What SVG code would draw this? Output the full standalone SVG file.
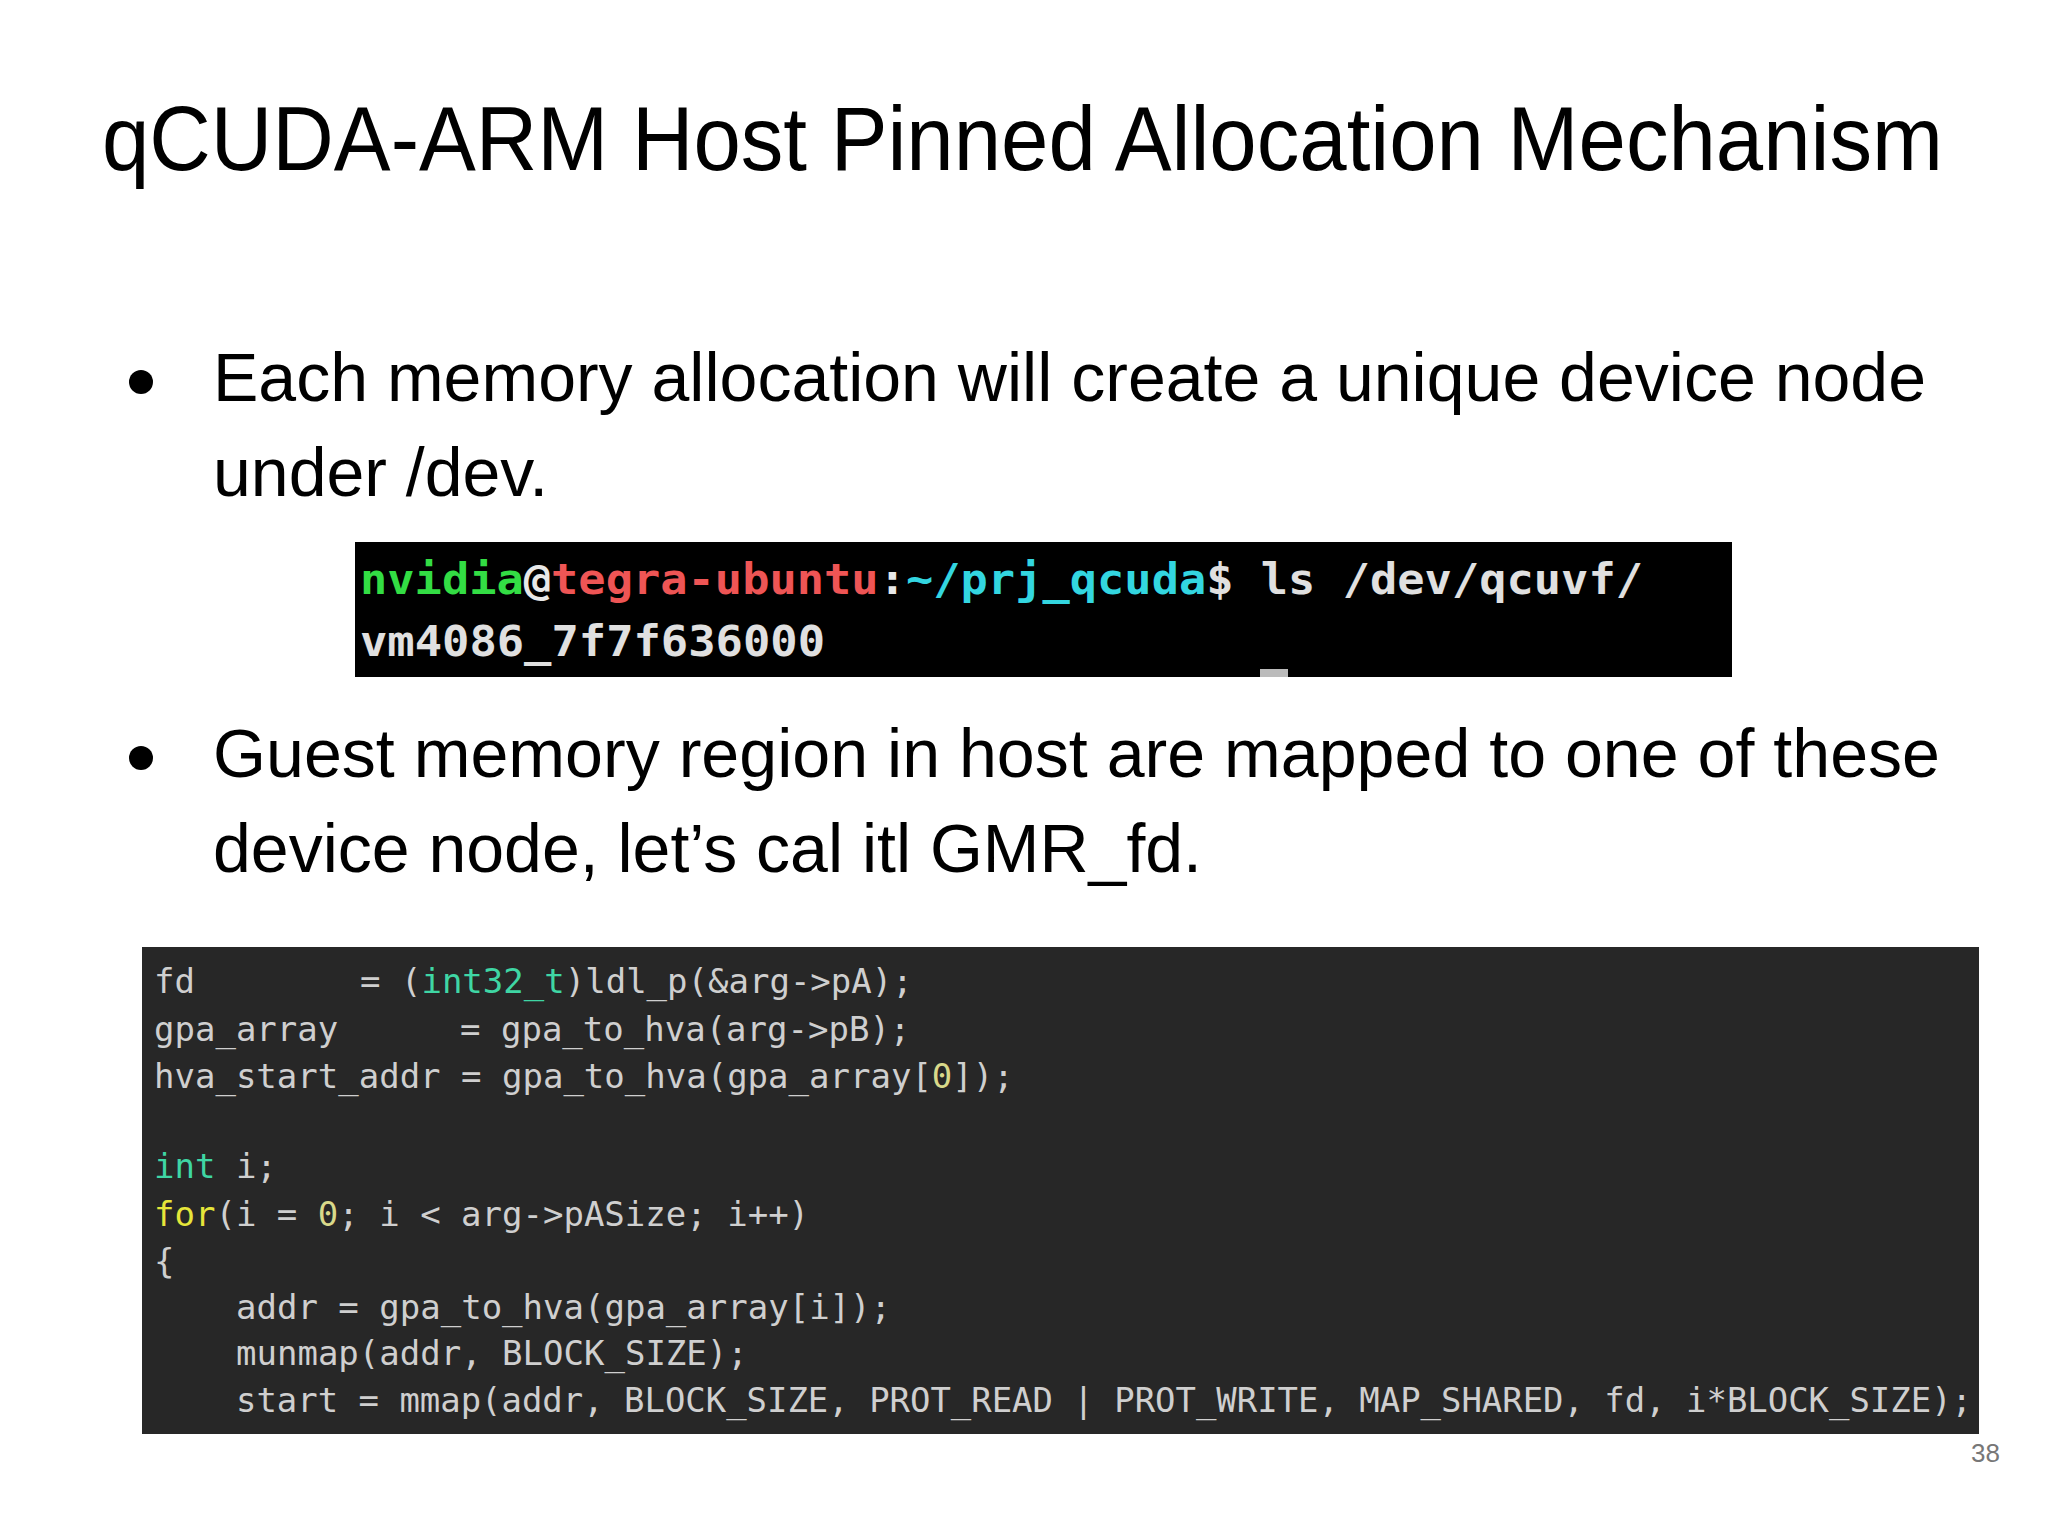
<svg xmlns="http://www.w3.org/2000/svg" width="2048" height="1536" viewBox="0 0 2048 1536">
<style>
.t{font-family:"Liberation Sans",Arial,sans-serif;fill:#000}
.m{font-family:"DejaVu Sans Mono","Liberation Mono",monospace;white-space:pre}
.c{font-size:34px;fill:#cfcfcf}
.term{font-size:42px;font-weight:bold}
</style>
<rect width="2048" height="1536" fill="#fff"/>
<g id="title"><text class="t" x="102" y="170" font-size="90" textLength="1841" lengthAdjust="spacingAndGlyphs">qCUDA-ARM Host Pinned Allocation Mechanism</text></g>
<g id="bullet1">
<circle cx="141" cy="382" r="12" fill="#000"/>
<text class="t" x="213" y="401" font-size="68" textLength="1713" lengthAdjust="spacingAndGlyphs">Each memory allocation will create a unique device node</text>
<text class="t" x="213" y="496" font-size="68">under /dev.</text>
</g>
<g id="terminal">
<rect x="355" y="542" width="1377" height="135" fill="#000"/>
<text class="m term" x="360" y="594" textLength="1283" lengthAdjust="spacingAndGlyphs"><tspan fill="#33dd44">nvidia</tspan><tspan fill="#e8e8e8">@</tspan><tspan fill="#ee5555">tegra-ubuntu</tspan><tspan fill="#e8e8e8">:</tspan><tspan fill="#33d6e0">~/prj_qcuda</tspan><tspan fill="#e0e0e0">$ ls /dev/qcuvf/</tspan></text>
<text class="m term" x="360" y="656" fill="#e0e0e0" textLength="465" lengthAdjust="spacingAndGlyphs">vm4086_7f7f636000</text>
<rect x="1260" y="669" width="28" height="8" fill="#bbb"/>
</g>
<g id="bullet2">
<circle cx="141" cy="758" r="12" fill="#000"/>
<text class="t" x="213" y="777" font-size="68" textLength="1727" lengthAdjust="spacingAndGlyphs">Guest memory region in host are mapped to one of these</text>
<text class="t" x="213" y="872" font-size="68">device node, let’s cal itl GMR_fd.</text>
</g>
<g id="code">
<rect x="142" y="947" width="1837" height="487" fill="#272727"/>
<text class="m c" x="154" y="993">fd</text>
<text class="m c" x="360" y="993">= (<tspan fill="#3fd6a4">int32_t</tspan>)ldl_p(&amp;arg-&gt;pA);</text>
<text class="m c" x="154" y="1041">gpa_array</text>
<text class="m c" x="460" y="1041">= gpa_to_hva(arg-&gt;pB);</text>
<text class="m c" x="154" y="1088">hva_start_addr = gpa_to_hva(gpa_array[<tspan fill="#d9d98a">0</tspan>]);</text>
<text class="m c" x="154" y="1178"><tspan fill="#3fd6a4">int</tspan> i;</text>
<text class="m c" x="154" y="1226"><tspan fill="#e6e63a">for</tspan>(i = <tspan fill="#d9d98a">0</tspan>; i &lt; arg-&gt;pASize; i++)</text>
<text class="m c" x="154" y="1273">{</text>
<text class="m c" x="236" y="1319">addr = gpa_to_hva(gpa_array[i]);</text>
<text class="m c" x="236" y="1365">munmap(addr, BLOCK_SIZE);</text>
<text class="m c" x="236" y="1412" textLength="1736" lengthAdjust="spacingAndGlyphs">start = mmap(addr, BLOCK_SIZE, PROT_READ | PROT_WRITE, MAP_SHARED, fd, i*BLOCK_SIZE);</text>
</g>
<text class="t" x="2000" y="1462" font-size="26" fill="#777" style="fill:#777" text-anchor="end">38</text>
</svg>
